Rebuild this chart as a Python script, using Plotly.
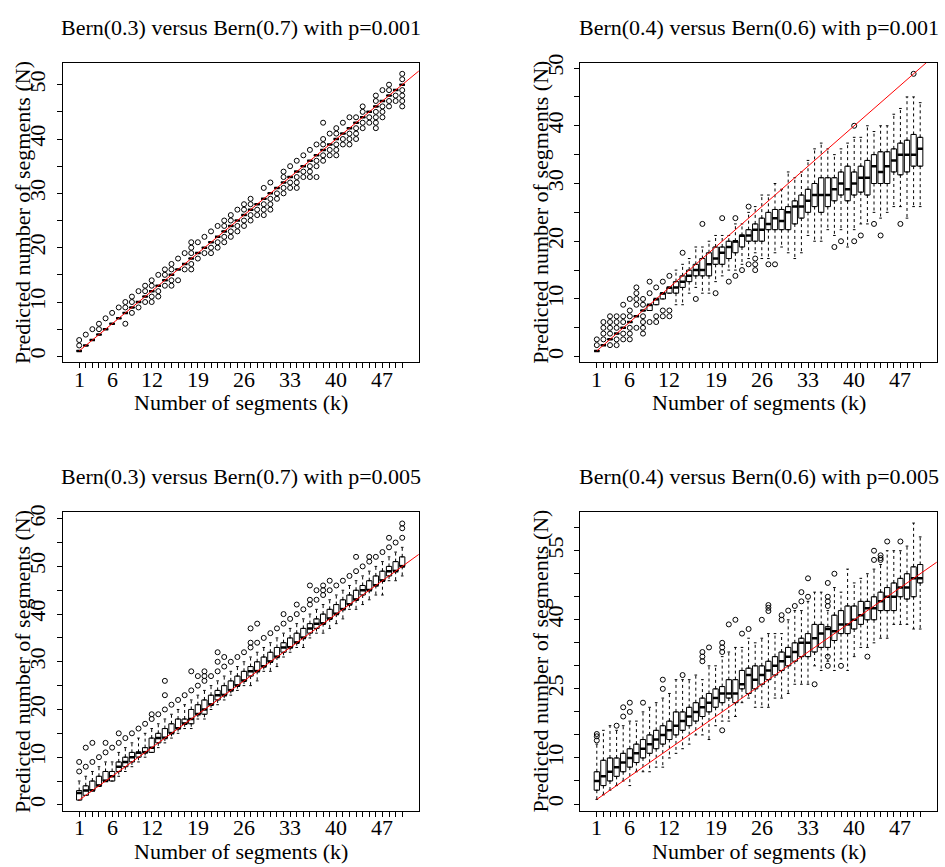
import plotly.graph_objects as go

# ---------------- data ----------------
K = [1, 2, 3, 4, 5, 6, 7, 8, 9, 10, 11, 12, 13, 14, 15, 16, 17, 18, 19, 20,
     21, 22, 23, 24, 25, 26, 27, 28, 29, 30, 31, 32, 33, 34, 35, 36, 37, 38, 39, 40,
     41, 42, 43, 44, 45, 46, 47, 48, 49, 50]
X_LABEL_POS = [1, 6, 12, 19, 26, 33, 40, 47]
X_LABELS = ["1", "6", "12", "19", "26", "33", "40", "47"]

TITLES = ["Bern(0.3) versus Bern(0.7) with p=0.001",
          "Bern(0.4) versus Bern(0.6) with p=0.001",
          "Bern(0.3) versus Bern(0.7) with p=0.005",
          "Bern(0.4) versus Bern(0.6) with p=0.005"]
X_TITLE = "Number of segments (k)"
Y_TITLE = "Predicted number of segments (N)"

Y_TICKS_P1 = [0, 5, 10, 15, 20, 25, 30, 35, 40, 45, 50]
Y_LABELS_P1 = ["0", "", "10", "", "20", "", "30", "", "40", "", "50"]
Y_TICKS_P2 = [0, 5, 10, 15, 20, 25, 30, 35, 40, 45, 50]
Y_LABELS_P2 = ["0", "", "10", "", "20", "", "30", "", "40", "", "50"]
Y_TICKS_P3 = [0, 5, 10, 15, 20, 25, 30, 35, 40, 45, 50, 55, 60]
Y_LABELS_P3 = ["0", "", "10", "", "20", "", "30", "", "40", "", "50", "", "60"]
Y_TICKS_P4 = [0, 5, 10, 15, 20, 25, 30, 35, 40, 45, 50, 55, 60]
Y_LABELS_P4 = ["0", "", "10", "", "", "25", "", "", "40", "", "", "55", ""]

REF_X = [1, 70]
REF_Y = [1, 70]

# Panel 1: Bern(0.3) vs Bern(0.7), p=0.001 (boxes collapse to a line)
P1_Q1 = [1, 2, 3, 4, 5, 6, 7, 8, 9, 10, 11, 12, 13, 14, 15, 16, 17, 18, 19, 20,
         21, 22, 23, 24, 25, 26, 27, 28, 29, 30, 31, 32, 33, 34, 35, 36, 37, 38, 39, 40,
         41, 42, 43, 44, 45, 46, 47, 48, 49, 50]
P1_MED = [1, 2, 3, 4, 5, 6, 7, 8, 9, 10, 11, 12, 13, 14, 15, 16, 17, 18, 19, 20,
          21, 22, 23, 24, 25, 26, 27, 28, 29, 30, 31, 32, 33, 34, 35, 36, 37, 38, 39, 40,
          41, 42, 43, 44, 45, 46, 47, 48, 49, 50]
P1_Q3 = [1, 2, 3, 4, 5, 6, 7, 8, 9, 10, 11, 12, 13, 14, 15, 16, 17, 18, 19, 20,
         21, 22, 23, 24, 25, 26, 27, 28, 29, 30, 31, 32, 33, 34, 35, 36, 37, 38, 39, 40,
         41, 42, 43, 44, 45, 46, 47, 48, 49, 50]
P1_LO = P1_Q1
P1_HI = P1_Q3
P1_OUT = [[2, 3], [4], [5], [5, 6], [7], [8], [9], [6, 9, 10], [8, 10, 11], [9, 12],
          [10, 12, 13], [10, 11, 13, 14], [11, 12, 15], [13, 15, 16], [13, 14, 16, 17],
          [14, 18], [16, 19], [16, 17, 19, 20, 21], [18, 21], [19, 22],
          [19, 20, 23], [20, 21, 24], [21, 22, 24, 25], [22, 23, 25, 26], [23, 24, 27],
          [24, 25, 27, 28], [25, 26, 28, 29], [26, 27], [26, 27, 28, 31], [27, 28, 29, 32],
          [29, 30], [30, 31, 33, 34], [31, 32, 35], [31, 32, 33, 36], [33, 34, 37],
          [33, 34, 35, 38], [33, 35, 36, 39], [36, 37, 39, 40, 43], [37, 38, 41], [37, 38, 39, 41, 42],
          [39, 40, 43], [39, 40, 41, 44], [40, 41, 42, 44], [42, 43, 45, 46], [43, 44],
          [42, 43, 44, 45, 47, 48], [44, 45, 46, 49], [46, 47, 49, 50], [47, 48], [46, 47, 48, 49, 51, 52]]

# Panel 2: Bern(0.4) vs Bern(0.6), p=0.001
P2_Q1 = [1, 2, 3, 4, 5, 6, 7, 8, 8, 9, 10, 11, 11, 12, 13, 14, 14, 14, 16, 16,
         17, 18, 19, 20, 20, 20, 22, 22, 22, 22, 23, 24, 25, 26, 25, 26, 27, 28, 27, 28,
         28.5, 28, 30, 30, 30, 32, 31.5, 32, 33, 33]
P2_MED = [1, 2, 3, 4, 5, 6, 7, 8, 9, 10, 11, 12, 12, 13, 14, 15, 15, 16, 17, 18,
          19, 20, 21, 21, 22, 22, 23, 24, 23.5, 25, 26, 26, 27, 28, 28, 28, 29, 30, 29, 30,
          31, 31, 33, 32, 33, 34, 35, 35, 35, 36]
P2_Q3 = [1, 2, 3, 4, 5, 6, 7, 8, 9, 10, 11, 12, 13, 14, 15, 16, 17, 18, 19, 19,
         20, 20, 21, 22, 23, 24, 25, 25.5, 25.5, 26, 27, 28, 29, 30, 31, 31, 31, 32, 33, 32,
         33, 34, 35, 35.5, 35.5, 36, 37, 37.5, 38.5, 38]
P2_LO = [1, 2, 3, 4, 5, 6, 7, 8, 8, 9, 10, 11, 9, 9, 11, 12, 11, 11, 13, 14,
         15, 15, 16, 17, 18, 17, 17, 18, 19, 18, 17, 18, 21, 20, 20, 22, 21, 22, 19, 22,
         23, 23, 25, 24, 25, 26, 26, 24, 26, 26]
P2_HI = [1, 2, 3, 4, 5, 6, 7, 8, 9, 10, 11, 12, 15, 16, 17, 19, 19, 20, 21, 21,
         21, 23, 23, 25, 26, 28, 28, 30, 29, 32, 31, 32, 34, 36, 37, 36, 35, 36, 37, 38,
         38, 40, 39, 40, 40, 42, 43, 45, 45, 44]
P2_OUT = [[2, 3], [3, 4, 5, 6], [2, 4, 5, 6, 7], [2, 3, 5, 6, 7], [3, 4, 6, 7, 9],
          [3, 4, 5, 7, 8, 10], [5, 9, 10, 11, 12], [4, 5, 6, 7, 9, 10], [6, 11, 13], [6, 7, 12],
          [7, 8, 13], [7, 8, 14], [], [18], [],
          [10], [23], [], [11], [24],
          [13], [14, 24], [15], [16, 26], [15, 16, 17],
          [], [16], [16], [], [],
          [], [], [], [], [],
          [], [19], [20], [], [20, 40],
          [21], [], [23], [21], [],
          [], [23], [], [49], []]

# Panel 3: Bern(0.3) vs Bern(0.7), p=0.005
P3_Q1 = [1, 2, 3, 4, 5, 5, 7, 8, 9, 10, 11, 11, 13, 14, 15, 16, 17, 17, 19, 19,
         21, 22, 23, 24, 25, 26, 27, 28, 29, 30, 31, 32, 33, 34, 35, 36, 37, 38, 39, 40,
         41, 42, 43, 44, 45, 46, 47, 48, 49, 50]
P3_MED = [2.5, 3, 3, 4, 5, 6, 8, 9, 10, 11, 11, 12, 14, 14, 15, 16, 17, 18, 19, 20,
          21, 23, 23, 24, 25, 26, 28, 28, 29, 30, 31, 33, 33, 34, 35, 37, 38, 38, 39, 40,
          41, 42, 43, 45, 45, 46, 47, 49, 49, 50]
P3_Q3 = [3, 4, 5, 6, 7, 7, 9, 10, 11, 11, 12, 14, 15, 16, 17, 18, 18, 20, 21, 22,
         23, 24, 25, 26, 27, 28, 29, 30, 31, 32, 33, 34, 35, 36, 37, 38, 39, 40, 41, 42,
         43, 44, 45, 46, 47, 48, 49, 50, 51, 52]
P3_LO = [1, 2, 3, 4, 5, 5, 6, 7, 8, 9, 10, 11, 12, 13, 14, 15, 16, 16, 18, 18,
         20, 21, 22, 23, 24, 25, 25, 26, 28, 28, 29, 31, 32, 33, 33, 35, 36, 36, 37, 38,
         39, 41, 41, 42, 43, 44, 44, 47, 47, 48]
P3_HI = [5, 6, 7, 8, 9, 9, 11, 12, 13, 14, 15, 16, 17, 18, 19, 20, 21, 22, 23, 24,
         25, 26, 27, 28, 29, 30, 31, 32, 33, 34, 35, 36, 37, 38, 39, 40, 41, 42, 43, 44,
         45, 46, 47, 48, 49, 50, 51, 52, 53, 54]
P3_OUT = [[7, 9], [8, 12], [9, 13], [10], [11, 13],
          [12], [13, 15], [14], [15], [16],
          [17], [18, 19], [19], [20, 23, 26], [21],
          [22], [23], [24, 28], [25, 27], [26, 27, 28],
          [27], [28, 30, 32], [29, 31], [30], [31],
          [32], [33, 34, 37], [34, 38], [35], [36],
          [37], [38, 40], [39], [40, 42], [41],
          [42, 43, 46], [43, 45], [44, 45, 46], [45, 47], [46],
          [47], [48], [49, 52], [50], [51, 52],
          [52], [53], [54, 56], [55], [56, 58, 59]]

# Panel 4: Bern(0.4) vs Bern(0.6), p=0.005
P4_Q1 = [3, 4, 5, 6, 7, 8, 9, 10, 11, 12, 13, 14, 15, 16, 17, 18, 19, 20, 21, 22,
         23, 22, 25, 24, 25, 26, 27, 28, 29, 30, 31, 32, 32, 33, 34, 34, 35.5, 37, 37, 38,
         39, 40, 40, 42, 42, 42, 45, 44.5, 45, 48]
P4_MED = [5, 6, 7, 8, 9, 10, 11, 12, 13, 14, 15, 16, 17, 18, 19, 20, 21, 22, 23, 24,
          24, 24, 26, 28, 27, 28, 29, 30, 31, 32, 33, 35, 35, 36, 37, 38, 37.5, 39, 39, 40,
          41, 42.5, 42.5, 44, 45, 45, 47, 47, 49, 49]
P4_Q3 = [7, 9.5, 10, 10, 11, 12, 13, 14, 15, 16, 17, 18, 20, 20, 21, 22, 23, 24, 25, 25.5,
         27, 27, 29, 29.5, 30, 30, 31, 32, 33, 34, 35, 36, 37, 39, 39, 38.5, 41, 42, 43, 43,
         44, 44, 45, 46, 47, 48, 49, 50, 51.5, 52]
P4_LO = [1, 2, 3, 4, 5, 4, 7, 7, 7, 8, 8, 10, 11, 12, 13, 15, 15, 14, 17, 18,
         18, 19, 22, 23, 21, 21, 21, 23, 23, 24, 26, 26, 26, 30, 29, 31, 29, 31.5, 29, 32,
         34, 34, 35, 36, 36, 39, 39, 39, 38, 38]
P4_HI = [13, 16, 17, 16, 17, 18, 18, 20, 21, 22, 23, 24, 27, 27, 27, 28, 27, 30, 30, 32,
         33, 34, 34, 36, 35, 36, 37, 37, 37, 40, 42, 42, 44, 46, 46, 42, 47, 46, 51, 48,
         49, 50, 51, 52, 55, 55, 55, 56, 61, 58]
P4_OUT = [[13.8, 14.7, 15.2], [], [], [17], [19, 21],
          [20, 22], [], [22], [], [],
          [25, 27], [], [], [28], [],
          [], [31, 32, 33], [34], [], [16, 33, 34, 35],
          [39], [40], [37], [38], [],
          [40], [41.9, 42.6, 43.2], [], [40, 41], [42],
          [43], [44, 46], [45, 49], [26], [],
          [30, 32, 43, 44, 45, 48], [50], [30], [], [],
          [], [32], [53, 55], [53, 53.4, 54], [57],
          [], [57], [], [], []]

PANELS = [
    dict(q1=P1_Q1, med=P1_MED, q3=P1_Q3, lo=P1_LO, hi=P1_HI, out=P1_OUT,
         yticks=Y_TICKS_P1, ylabels=Y_LABELS_P1, yrange=[-1.04, 54.04]),
    dict(q1=P2_Q1, med=P2_MED, q3=P2_Q3, lo=P2_LO, hi=P2_HI, out=P2_OUT,
         yticks=Y_TICKS_P2, ylabels=Y_LABELS_P2, yrange=[-0.92, 50.92]),
    dict(q1=P3_Q1, med=P3_MED, q3=P3_Q3, lo=P3_LO, hi=P3_HI, out=P3_OUT,
         yticks=Y_TICKS_P3, ylabels=Y_LABELS_P3, yrange=[-1.2, 61.4]),
    dict(q1=P4_Q1, med=P4_MED, q3=P4_Q3, lo=P4_LO, hi=P4_HI, out=P4_OUT,
         yticks=Y_TICKS_P4, ylabels=Y_LABELS_P4, yrange=[-1.43, 63.4]),
]

# ---------------- layout geometry ----------------
W, H = 945, 867
FONT = "Liberation Serif"
FS = 22
BOX_W = 0.8
CAP_HALF = 0.2

PIX = [(62.7, 418.7, 54.3, 356.7), (580.3, 936.7, 54.3, 356.7),
       (62.7, 418.7, 508.3, 810.0), (580.3, 936.7, 508.3, 810.0)]

fig = go.Figure()
layout = dict(width=W, height=H, margin=dict(l=0, r=0, t=0, b=0),
              paper_bgcolor="white", plot_bgcolor="white", showlegend=False,
              font=dict(family=FONT, size=FS, color="black"))
annotations = []

for i, (p, (l, r, t, b)) in enumerate(zip(PANELS, PIX)):
    n = i + 1
    xa = "x" if n == 1 else f"x{n}"
    ya = "y" if n == 1 else f"y{n}"
    xdom = [l / W, r / W]
    ydom = [1 - b / H, 1 - t / H]
    common = dict(showline=True, mirror=True, linecolor="black", linewidth=1,
                  ticks="outside", ticklen=5, tickwidth=1, tickcolor="black",
                  showgrid=False, zeroline=False,
                  tickfont=dict(family=FONT, size=FS, color="black"))
    layout["xaxis" if n == 1 else f"xaxis{n}"] = dict(
        domain=xdom, range=[-1.5, 52.5], anchor=ya, tickmode="array",
        tickvals=K, showticklabels=False, **common)
    layout["yaxis" if n == 1 else f"yaxis{n}"] = dict(
        domain=ydom, range=p["yrange"], anchor=xa, tickmode="array",
        tickvals=p["yticks"], ticktext=p["ylabels"], tickangle=-90,
        ticklabelstandoff=3, **common)

    fig.add_trace(go.Box(x=K, q1=p["q1"], median=p["med"], q3=p["q3"],
                         lowerfence=p["q1"], upperfence=p["q3"],
                         width=BOX_W, fillcolor="white", boxpoints=False,
                         line=dict(color="black", width=1),
                         xaxis=xa, yaxis=ya, hoverinfo="skip"))

    wx, wy, cx, cy = [], [], [], []
    for k, q1, q3, lo, hi in zip(K, p["q1"], p["q3"], p["lo"], p["hi"]):
        if hi > q3:
            wx += [k, k, None]; wy += [q3, hi, None]
            cx += [k - CAP_HALF, k + CAP_HALF, None]; cy += [hi, hi, None]
        if lo < q1:
            wx += [k, k, None]; wy += [q1, lo, None]
            cx += [k - CAP_HALF, k + CAP_HALF, None]; cy += [lo, lo, None]
    fig.add_trace(go.Scatter(x=wx, y=wy, mode="lines",
                             line=dict(color="black", width=1, dash="3px,3px"),
                             xaxis=xa, yaxis=ya, hoverinfo="skip"))
    fig.add_trace(go.Scatter(x=cx, y=cy, mode="lines",
                             line=dict(color="black", width=1),
                             xaxis=xa, yaxis=ya, hoverinfo="skip"))

    mx, my = [], []
    for k, m in zip(K, p["med"]):
        mx += [k - BOX_W / 2, k + BOX_W / 2, None]; my += [m, m, None]
    fig.add_trace(go.Scatter(x=mx, y=my, mode="lines",
                             line=dict(color="black", width=2.5),
                             xaxis=xa, yaxis=ya, hoverinfo="skip"))

    ox, oy = [], []
    for k, outs in zip(K, p["out"]):
        for v in outs:
            ox.append(k); oy.append(v)
    fig.add_trace(go.Scatter(x=ox, y=oy, mode="markers",
                             marker=dict(symbol="circle-open", size=5, color="black",
                                         line=dict(width=1, color="black")),
                             cliponaxis=False, xaxis=xa, yaxis=ya, hoverinfo="skip"))

    fig.add_trace(go.Scatter(x=REF_X, y=REF_Y, mode="lines",
                             line=dict(color="red", width=1),
                             xaxis=xa, yaxis=ya, hoverinfo="skip"))

    # x tick labels, placed on the x axis positions (R style: close under the ticks)
    for pos, lab in zip(X_LABEL_POS, X_LABELS):
        annotations.append(dict(text=lab, x=pos, xref=xa, y=1 - (b + 17.3) / H,
                                yref="paper", showarrow=False, xanchor="center",
                                yanchor="middle", font=dict(family=FONT, size=FS)))

    cxp = (l + r) / 2 / W
    cyp = 1 - (t + b) / 2 / H
    annotations.append(dict(text=TITLES[i], x=cxp, y=1 - (t - 36) / H, xref="paper",
                            yref="paper", showarrow=False, xanchor="center",
                            yanchor="middle", font=dict(family=FONT, size=FS)))
    annotations.append(dict(text=X_TITLE, x=cxp, y=1 - (b + 41) / H, xref="paper",
                            yref="paper", showarrow=False, xanchor="center",
                            yanchor="middle", font=dict(family=FONT, size=FS)))
    annotations.append(dict(text=Y_TITLE, x=(l - 40) / W, y=cyp, xref="paper",
                            yref="paper", showarrow=False, xanchor="center",
                            yanchor="middle", textangle=-90,
                            font=dict(family=FONT, size=FS)))

layout["annotations"] = annotations
fig.update_layout(**layout)
fig.write_html(
    "out.html",
    config={"displayModeBar": False},
    post_script=("document.documentElement.style.margin='0px';"
                 "document.body.style.margin='0px';"
                 "document.body.style.padding='0px';"
                 "document.documentElement.style.overflow='hidden';"
                 "document.body.style.overflow='hidden';"),
)
